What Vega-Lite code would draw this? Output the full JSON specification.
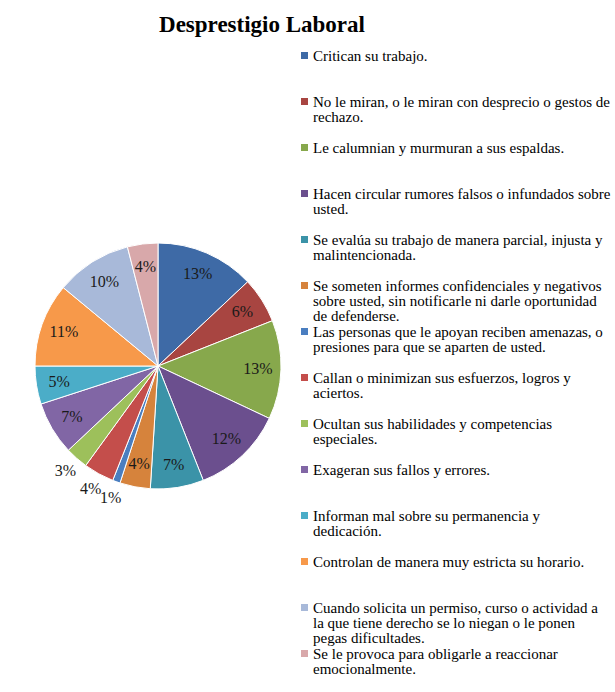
{
  "$schema": "https://vega.github.io/schema/vega-lite/v6.json",
  "autosize": "none",
  "padding": {"left": 0, "top": 45, "right": 299, "bottom": 5},
  "width": 316,
  "height": 642,
  "background": "white",
  "title": {
    "text": "Desprestigio Laboral",
    "font": "Liberation Serif",
    "fontSize": 23,
    "fontWeight": "bold",
    "color": "black",
    "anchor": "middle",
    "dx": 104,
    "offset": 8
  },
  "data": {
    "values": [
      {"categoria": "Critican su trabajo.", "valor": 0.13, "orden": 1},
      {"categoria": "No le miran, o le miran con desprecio o gestos de rechazo.", "valor": 0.06, "orden": 2},
      {"categoria": "Le calumnian y murmuran a sus espaldas.", "valor": 0.13, "orden": 3},
      {"categoria": "Hacen circular rumores falsos o infundados sobre usted.", "valor": 0.12, "orden": 4},
      {"categoria": "Se evalúa su trabajo de manera parcial, injusta y malintencionada.", "valor": 0.07, "orden": 5},
      {"categoria": "Se someten informes confidenciales y negativos sobre usted, sin notificarle ni darle oportunidad de defenderse.", "valor": 0.04, "orden": 6},
      {"categoria": "Las personas que le apoyan reciben amenazas, o presiones para que se aparten de usted.", "valor": 0.01, "orden": 7},
      {"categoria": "Callan o minimizan sus esfuerzos, logros y aciertos.", "valor": 0.04, "orden": 8},
      {"categoria": "Ocultan sus habilidades y competencias especiales.", "valor": 0.03, "orden": 9},
      {"categoria": "Exageran sus fallos y errores.", "valor": 0.07, "orden": 10},
      {"categoria": "Informan mal sobre su permanencia y dedicación.", "valor": 0.05, "orden": 11},
      {"categoria": "Controlan de manera muy estricta su horario.", "valor": 0.11, "orden": 12},
      {"categoria": "Cuando solicita un permiso, curso o actividad a la que tiene derecho se lo niegan o le ponen pegas dificultades.", "valor": 0.10, "orden": 13},
      {"categoria": "Se le provoca para obligarle a reaccionar emocionalmente.", "valor": 0.04, "orden": 14}
    ]
  },
  "encoding": {
    "theta": {"field": "valor", "type": "quantitative", "stack": true},
    "order": {"field": "orden", "type": "quantitative"}
  },
  "layer": [
    {
      "mark": {"type": "arc", "outerRadius": 123, "stroke": "white", "strokeWidth": 1},
      "encoding": {
        "color": {
          "field": "categoria",
          "type": "nominal",
          "sort": {"field": "orden", "op": "min"},
          "scale": {
            "range": ["#3E6AA6", "#A84541", "#87A84C", "#6B4F8E", "#3B93A8", "#D6833C", "#4A7EC0", "#C44E4B", "#9DC05B", "#8166A5", "#4BADC8", "#F7994A", "#A8B9D9", "#D8A8AA"]
          },
          "legend": {
            "orient": "none",
            "legendX": 297,
            "legendY": 3,
            "direction": "vertical",
            "title": null,
            "padding": 0,
            "symbolType": "square",
            "symbolSize": 49,
            "symbolStrokeWidth": 0,
            "symbolOpacity": 1,
            "labelFont": "Liberation Serif",
            "labelFontSize": 15,
            "labelColor": "black",
            "labelLimit": 400,
            "labelOffset": 1,
            "labelBaseline": "alphabetic",
            "rowPadding": 0,
            "labelExpr": "slice(split(replace(replace(replace(replace(replace(replace(replace(replace(replace(replace(replace(replace(datum.label, 'gestos de ', 'gestos de|'), 'infundados sobre ', 'infundados sobre|'), 'injusta y ', 'injusta y|'), 'negativos ', 'negativos|'), 'oportunidad ', 'oportunidad|'), 'amenazas, o ', 'amenazas, o|'), 'logros y ', 'logros y|'), 'competencias ', 'competencias|'), 'permanencia y ', 'permanencia y|'), 'actividad a ', 'actividad a|'), 'le ponen ', 'le ponen|'), 'reaccionar ', 'reaccionar|') + '||', '|'), 0, 3)"
          }
        }
      }
    },
    {
      "mark": {"type": "text", "radius": 100, "font": "Liberation Serif", "fontSize": 16, "color": "#1a1a1a"},
      "encoding": {
        "text": {"field": "valor", "type": "quantitative", "format": ".0%"},
        "opacity": {"condition": {"test": "datum.orden >= 7 && datum.orden <= 9", "value": 0}, "value": 1}
      }
    },
    {
      "mark": {"type": "text", "radius": 140, "font": "Liberation Serif", "fontSize": 16, "color": "#1a1a1a"},
      "encoding": {
        "text": {"field": "valor", "type": "quantitative", "format": ".0%"},
        "opacity": {"condition": {"test": "datum.orden >= 7 && datum.orden <= 9", "value": 1}, "value": 0}
      }
    }
  ],
  "config": {
    "view": {"stroke": null},
    "style": {"guide-label": {"dy": 5, "lineHeight": 15}}
  }
}
